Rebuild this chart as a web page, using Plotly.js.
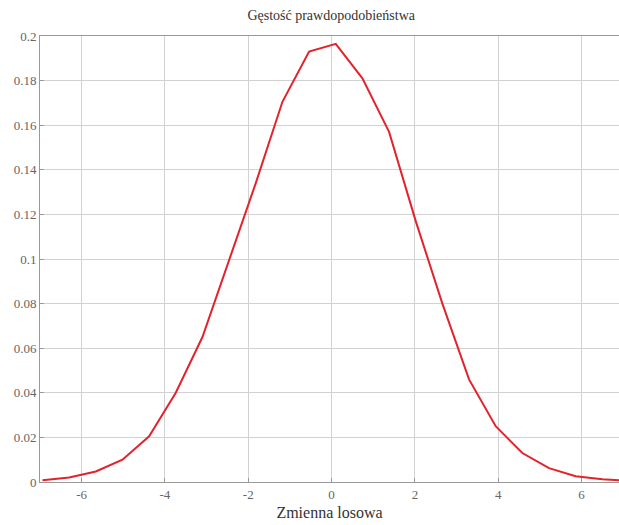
<!DOCTYPE html>
<html>
<head>
<meta charset="utf-8">
<script src="https://cdn.plot.ly/plotly-3.0.1.min.js"></script>
<style>html,body{margin:0;padding:0;background:#fff;}#chart{width:619px;height:525px;}</style>
</head>
<body>
<div id="chart"></div>
<script>
var xValues = [-6.94, -6.30, -5.66, -5.02, -4.38, -3.74, -3.10, -2.46, -1.82, -1.18, -0.54, 0.10, 0.74, 1.38, 2.02, 2.66, 3.30, 3.94, 4.58, 5.22, 5.86, 6.50, 7.14];
var density = [0.0008, 0.0020, 0.0047, 0.0100, 0.0205, 0.0400, 0.0650, 0.0990, 0.1340, 0.1705, 0.1930, 0.1965, 0.1810, 0.1570, 0.1170, 0.0800, 0.0460, 0.0250, 0.0130, 0.0062, 0.0026, 0.0012, 0.0005];
var titleText = 'Gęstość prawdopodobieństwa';
var xTitle = 'Zmienna losowa';

var trace = {
  x: xValues, y: density, type: 'scatter', mode: 'lines',
  line: {color: '#e3232c', width: 2}, hoverinfo: 'skip'
};
var serif = '"Liberation Serif", "DejaVu Serif", serif';
var layout = {
  width: 619, height: 525,
  margin: {l: 40, r: 0, t: 36, b: 43},
  paper_bgcolor: '#fff', plot_bgcolor: '#fff',
  showlegend: false,
  title: {text: titleText, font: {family: serif, size: 14, color: '#333'}, x: 0.535, xanchor: 'center', y: 0.972, yanchor: 'middle'},
  xaxis: {
    range: [-7, 6.9], tickvals: [-6, -4, -2, 0, 2, 4, 6], ticktext: ['-6', '-4', '-2', '0', '2', '4', '6'],
    showgrid: true, gridcolor: '#d2d2d2', gridwidth: 1, zeroline: false,
    showline: true, linecolor: '#999', linewidth: 1, mirror: true,
    ticks: 'inside', ticklen: 4, tickcolor: '#999',
    tickfont: {family: serif, size: 13, color: '#666'},
    title: {text: xTitle, font: {family: serif, size: 16, color: '#333'}, standoff: 6}
  },
  yaxis: {
    range: [0, 0.2], tickvals: [0, 0.02, 0.04, 0.06, 0.08, 0.1, 0.12, 0.14, 0.16, 0.18, 0.2],
    ticktext: ['0', '0.02', '0.04', '0.06', '0.08', '0.1', '0.12', '0.14', '0.16', '0.18', '0.2'],
    showgrid: true, gridcolor: '#d2d2d2', gridwidth: 1, zeroline: false,
    showline: true, linecolor: '#999', linewidth: 1, mirror: true,
    ticks: 'inside', ticklen: 4, tickcolor: '#999',
    tickfont: {family: serif, size: 13, color: '#666'}
  }
};
Plotly.newPlot('chart', [trace], layout, {displayModeBar: false, staticPlot: true});
</script>
</body>
</html>
